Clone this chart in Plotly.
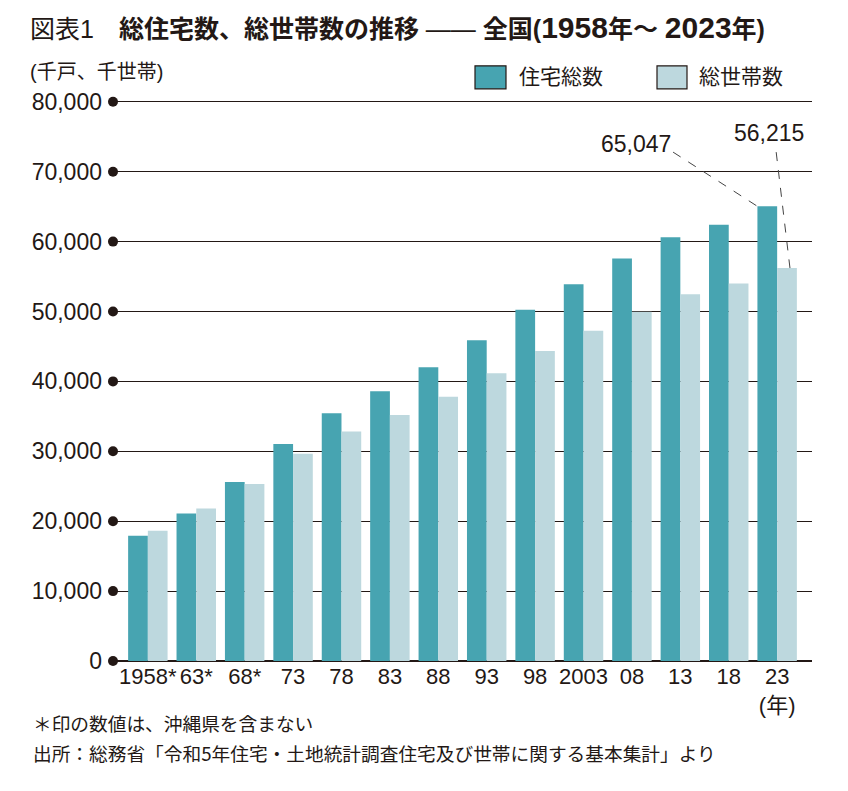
import plotly.graph_objects as go

# ---- data ----
years = ["1958", "1963", "1968", "1973", "1978", "1983", "1988", "1993",
         "1998", "2003", "2008", "2013", "2018", "2023"]
year_labels = ["1958*", "63*", "68*", "73", "78", "83", "88", "93",
               "98", "2003", "08", "13", "18", "23<br>(年)"]
housing = [17934, 21090, 25591, 31059, 35451, 38607, 42007, 45879,
           50246, 53891, 57586, 60629, 62407, 65047]
households = [18647, 21821, 25320, 29651, 32835, 35197, 37812, 41159,
              44360, 47255, 49973, 52453, 54001, 56215]
y_ticks = [0, 10000, 20000, 30000, 40000, 50000, 60000, 70000, 80000]
series_names = ["住宅総数", "総世帯数"]

TEAL = "#47A4B1"
LIGHT = "#BDD8DE"
INK = "#231815"
FONT = "Liberation Sans, Arial, Noto Sans CJK JP"

# the page body has an 8px margin; size the figure so it fits the 848x791 window
OFF = 8
W, H = 848 - 2 * OFF, 791 - 2 * OFF
Y_TOP_PX, Y_ZERO_PX = 102 - OFF, 661 - OFF      # rows of 80,000 and 0 inside the figure
y_max = y_ticks[-1]
y_pad = 400
px_per_unit = (Y_ZERO_PX - Y_TOP_PX) / y_max
L = 113 - OFF
R = W - (812 - OFF)
T = Y_TOP_PX - y_pad * px_per_unit
B = H - Y_ZERO_PX
pw, ph = W - L - R, H - T - B


def px(x):
    """window x pixel -> paper x"""
    return (x - OFF - L) / pw


def py(y):
    """window y pixel -> paper y"""
    return (H - B - (y - OFF)) / ph


bargap = 0.185
half = (1 - bargap) / 2

fig = go.Figure()
fig.add_trace(go.Bar(x=years, y=housing, name=series_names[0], marker_color=TEAL,
                     marker_line_width=0))
fig.add_trace(go.Bar(x=years, y=households, name=series_names[1], marker_color=LIGHT,
                     marker_line_width=0))
# dots at the start of each gridline
fig.add_trace(go.Scatter(x=[0] * len(y_ticks), y=y_ticks, xaxis="x2", yaxis="y",
                         mode="markers", marker=dict(size=10, color=INK),
                         cliponaxis=False, hoverinfo="skip", showlegend=False))

shapes = []
last = len(years) - 1
lead_y = 72800
# leader lines
shapes.append(dict(type="line", xref="x", yref="y",
                   x0=last - 2.15, y0=lead_y, x1=last - half, y1=housing[-1],
                   line=dict(color="#444", width=1, dash="dash")))
shapes.append(dict(type="line", xref="x", yref="y",
                   x0=last - 0.02, y0=lead_y, x1=last + 0.65 * half, y1=households[-1],
                   line=dict(color="#444", width=1, dash="dash")))

# legend boxes
shapes.append(dict(type="rect", xref="paper", yref="paper",
                   x0=px(475), x1=px(506), y0=py(89), y1=py(66),
                   fillcolor=TEAL, line=dict(color=INK, width=1.2)))
shapes.append(dict(type="rect", xref="paper", yref="paper",
                   x0=px(657), x1=px(687), y0=py(89), y1=py(66),
                   fillcolor=LIGHT, line=dict(color=INK, width=1.2)))

big = '<span style="font-size:30px">'
title_text = ("図表1　<b>総住宅数、総世帯数の推移</b> —— "
              f"<b>全国({big}1958</span>年～ {big}2023</span>年)</b>")

annotations = [
    dict(xref="paper", yref="paper", x=px(517), y=py(77), xanchor="left", yanchor="middle",
         text=series_names[0], showarrow=False, font=dict(size=21, color=INK, family=FONT)),
    dict(xref="paper", yref="paper", x=px(697), y=py(77), xanchor="left", yanchor="middle",
         text=series_names[1], showarrow=False, font=dict(size=21, color=INK, family=FONT)),
    dict(xref="paper", yref="paper", x=px(28), y=py(72), xanchor="left", yanchor="middle",
         text="(千戸、千世帯)", showarrow=False, font=dict(size=20, color=INK, family=FONT)),
    dict(xref="paper", yref="paper", x=px(28), y=py(28), xanchor="left", yanchor="middle",
         text=title_text, showarrow=False, font=dict(size=25, color=INK, family=FONT)),
    dict(xref="x", yref="y", x=last - 2.91, y=73900, xanchor="center", yanchor="middle",
         text=f"{housing[-1]:,}", showarrow=False, font=dict(size=23, color=INK, family=FONT)),
    dict(xref="x", yref="y", x=last - 0.17, y=75600, xanchor="center", yanchor="middle",
         text=f"{households[-1]:,}", showarrow=False, font=dict(size=23, color=INK, family=FONT)),
    dict(xref="paper", yref="paper", x=px(31), y=py(722), xanchor="left", yanchor="middle",
         text="＊印の数値は、沖縄県を含まない", showarrow=False,
         font=dict(size=18.7, color=INK, family="Noto Sans CJK JP")),
    dict(xref="paper", yref="paper", x=px(31), y=py(752), xanchor="left", yanchor="middle",
         text="出所：総務省「令和5年住宅・土地統計調査住宅及び世帯に関する基本集計」より",
         showarrow=False, font=dict(size=18.7, color=INK, family="Noto Sans CJK JP")),
]

fig.update_layout(
    template="none",
    width=W, height=H, autosize=False,
    margin=dict(l=L, r=R, t=T, b=B, pad=0),
    paper_bgcolor="white", plot_bgcolor="white",
    barmode="group", bargap=bargap, bargroupgap=0,
    showlegend=False,
    shapes=shapes, annotations=annotations,
    font=dict(family=FONT, color=INK),
    xaxis=dict(type="category", range=[-0.72, len(years) - 1 + 0.72],
               tickmode="array", tickvals=years, ticktext=year_labels, tickangle=0,
               tickfont=dict(size=22, color=INK, family=FONT),
               showgrid=False, showline=False, ticks="", zeroline=False,
               automargin=False),
    xaxis2=dict(overlaying="x", range=[0, 1], visible=False, automargin=False),
    yaxis=dict(range=[0, y_max + y_pad], tickmode="array", tickvals=y_ticks,
               tickformat=",", tickfont=dict(size=23, color=INK, family=FONT),
               showgrid=True, gridcolor=INK, gridwidth=1.3,
               zeroline=True, zerolinecolor=INK, zerolinewidth=1.5,
               showline=False, ticks="", ticklabelstandoff=10, automargin=False),
)

fig.write_html("out.html")
